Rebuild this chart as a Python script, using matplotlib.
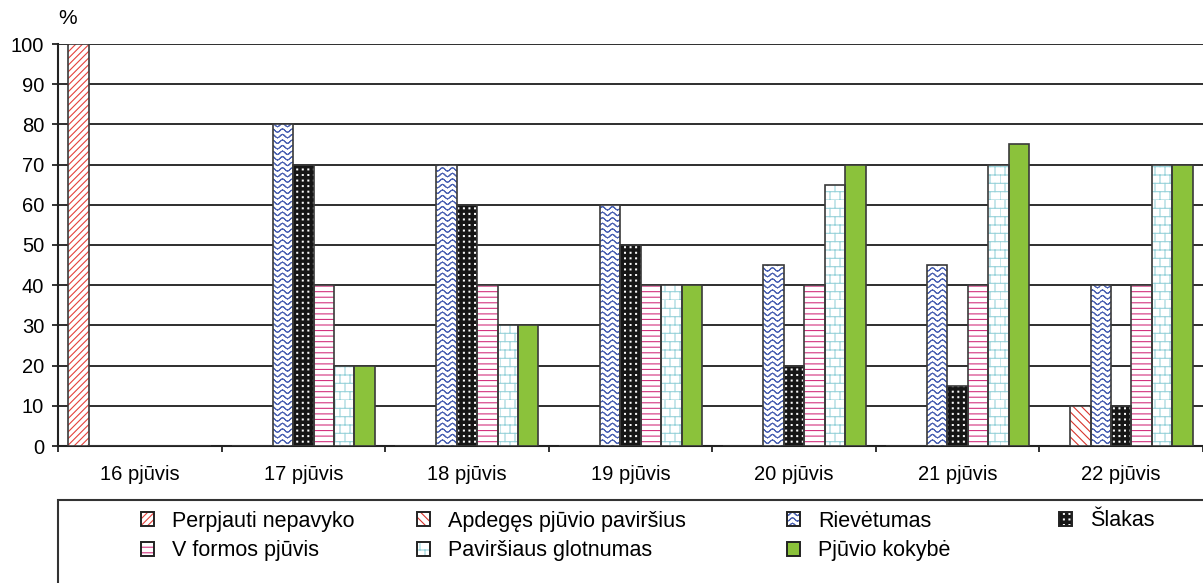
import warnings
import numpy as np
import matplotlib
matplotlib.use('Agg')
import matplotlib.pyplot as plt
from matplotlib import hatch as mhatch
from matplotlib.path import Path
from matplotlib.patches import Patch, Rectangle
from matplotlib.legend_handler import HandlerTuple

warnings.filterwarnings('ignore', category=matplotlib.MatplotlibDeprecationWarning)

groups = ['16 pjūvis', '17 pjūvis', '18 pjūvis', '19 pjūvis',
          '20 pjūvis', '21 pjūvis', '22 pjūvis']
perpjauti = [100, 0, 0, 0, 0, 0, 0]
apdeges = [0, 0, 0, 0, 0, 0, 10]
rievetumas = [0, 80, 70, 60, 45, 45, 40]
slakas = [0, 70, 60, 50, 20, 15, 10]
v_formos = [0, 40, 40, 40, 40, 40, 40]
glotnumas = [0, 20, 30, 40, 65, 70, 70]
kokybe = [0, 20, 30, 40, 70, 75, 70]


# extra hatch patterns: 'w' waves, 'b' bricks, 'q' small filled squares
class WaveHatch(mhatch.HatchPatternBase):
    def __init__(self, hatch, density):
        self.num_rows = int(hatch.count('w') * density)
        self.nseg = 80
        self.num_vertices = self.num_rows * self.nseg * 2

    def set_vertices_and_codes(self, vertices, codes):
        xs = np.linspace(0, 1, self.nseg + 1)
        amp = 0.3 / self.num_rows
        for i in range(self.num_rows):
            y0 = (i + 0.5) / self.num_rows
            ys = y0 + amp * np.sin(2 * np.pi * 10 * xs)
            blk = vertices[i * self.nseg * 2:(i + 1) * self.nseg * 2]
            blk[0::2, 0] = xs[:-1]
            blk[0::2, 1] = ys[:-1]
            blk[1::2, 0] = xs[1:]
            blk[1::2, 1] = ys[1:]
        codes[0::2] = Path.MOVETO
        codes[1::2] = Path.LINETO


class BrickHatch(mhatch.HatchPatternBase):
    def __init__(self, hatch, density):
        self.num_rows = int(hatch.count('b') * density)
        self.ncols = 10
        self.num_vertices = self.num_rows * 2 + self.num_rows * self.ncols * 2

    def set_vertices_and_codes(self, vertices, codes):
        n, m = self.num_rows, self.ncols
        ys = np.arange(n) / n
        vertices[0:2 * n:2, 0] = 0.0
        vertices[0:2 * n:2, 1] = ys
        vertices[1:2 * n:2, 0] = 1.0
        vertices[1:2 * n:2, 1] = ys
        k = 2 * n
        for i in range(n):
            xs = (np.arange(m) + 0.5 * (i % 2)) / m
            blk = vertices[k:k + 2 * m]
            blk[0::2, 0] = xs
            blk[0::2, 1] = i / n
            blk[1::2, 0] = xs
            blk[1::2, 1] = (i + 1) / n
            k += 2 * m
        codes[0::2] = Path.MOVETO
        codes[1::2] = Path.LINETO


class SquareDotHatch(mhatch.HatchPatternBase):
    def __init__(self, hatch, density):
        self.num = int(hatch.count('q') * density)
        self.num_vertices = self.num * self.num * 5

    def set_vertices_and_codes(self, vertices, codes):
        n = self.num
        s = 0.08 / n
        k = 0
        for i in range(n):
            for j in range(n):
                cx, cy = (j + 0.5) / n, (i + 0.5) / n
                vertices[k:k + 5] = [(cx - s, cy - s), (cx + s, cy - s),
                                     (cx + s, cy + s), (cx - s, cy + s),
                                     (cx - s, cy - s)]
                codes[k:k + 5] = [Path.MOVETO, Path.LINETO, Path.LINETO,
                                  Path.LINETO, Path.CLOSEPOLY]
                k += 5


mhatch._hatch_types.extend([WaveHatch, BrickHatch, SquareDotHatch])

plt.rcParams['font.family'] = ['Liberation Sans', 'DejaVu Sans']
plt.rcParams['hatch.linewidth'] = 0.8

outline = '#3a3a3a'
series = [
    ('Perpjauti nepavyko', perpjauti, 'white', '#e4423c', '/////'),
    ('Apdegęs pjūvio paviršius', apdeges, 'white', '#d8352e', '\\\\\\\\'),
    ('Rievėtumas', rievetumas, 'white', '#4b62b3', 'www'),
    ('Šlakas', slakas, '#161616', 'white', 'qqq'),
    ('V formos pjūvis', v_formos, 'white', '#d3337f', '---'),
    ('Paviršiaus glotnumas', glotnumas, 'white', '#99d3da', 'bb'),
    ('Pjūvio kokybė', kokybe, '#8bc23b', '#8bc23b', None),
]

fig = plt.figure(figsize=(12.03, 5.83), dpi=100)
ax = fig.add_axes([58 / 1203, 1 - 446 / 583, 1145 / 1203, 402 / 583])

x = np.arange(len(groups))
w = 0.125
handles = {}
for i, (name, vals, face, hcol, hatch) in enumerate(series):
    pos = x + (i - 3) * w
    ax.bar(pos, vals, w, color=face, edgecolor=hcol, linewidth=0,
           hatch=hatch, zorder=3)
    ax.bar(pos, vals, w, fill=False, edgecolor=outline, linewidth=1.2,
           zorder=4)
    handles[name] = (Patch(facecolor=face, edgecolor=hcol, linewidth=0, hatch=hatch),
                     Patch(fill=False, edgecolor='#222222', linewidth=1.4))

ax.set_xlim(-0.5, len(groups) - 0.5)
ax.set_ylim(0, 100)
ax.set_yticks(np.arange(0, 101, 10))
ax.yaxis.grid(True, color='#2e2e2e', linewidth=1.4, zorder=0)
ax.set_axisbelow(True)

ax.set_xticks(np.arange(-0.5, len(groups), 1))
ax.set_xticklabels([])
ax.set_xticks(x, minor=True)
ax.set_xticklabels(groups, minor=True)
ax.tick_params(axis='x', which='major', direction='out', length=4,
               width=1.3, color='#222222')
ax.tick_params(axis='x', which='minor', length=0, pad=14, labelsize=14.5)
ax.tick_params(axis='y', direction='out', length=4, width=1.3,
               color='#222222', pad=6, labelsize=14.5)

for side in ['top', 'right']:
    ax.spines[side].set_visible(False)
for side in ['left', 'bottom']:
    ax.spines[side].set_color('#222222')
    ax.spines[side].set_linewidth(1.5)

fig.text(58 / 1203, 1 - 18 / 583, '%', ha='left', va='center', fontsize=15)

# legend frame running off the bottom and right edges
fig.add_artist(Rectangle((58 / 1203, -0.1), 1.0, 0.1 + (583 - 500) / 583,
                         transform=fig.transFigure, fill=False,
                         edgecolor='#333333', linewidth=1.5))

columns = [
    (141, ['Perpjauti nepavyko', 'V formos pjūvis']),
    (417, ['Apdegęs pjūvio paviršius', 'Paviršiaus glotnumas']),
    (787, ['Rievėtumas', 'Pjūvio kokybė']),
    (1059, ['Šlakas']),
]
for px, names in columns:
    cy = 536 if len(names) == 2 else 521
    fig.legend([handles[n] for n in names], names,
               handler_map={tuple: HandlerTuple(ndivide=1, pad=0)},
               loc='center left', bbox_to_anchor=(px / 1203, 1 - cy / 583),
               frameon=False, fontsize=15.5, borderpad=0, borderaxespad=0,
               handlelength=0.6, handleheight=0.6, handletextpad=0.85,
               labelspacing=0.4)

fig.savefig('out.png', dpi=100)
